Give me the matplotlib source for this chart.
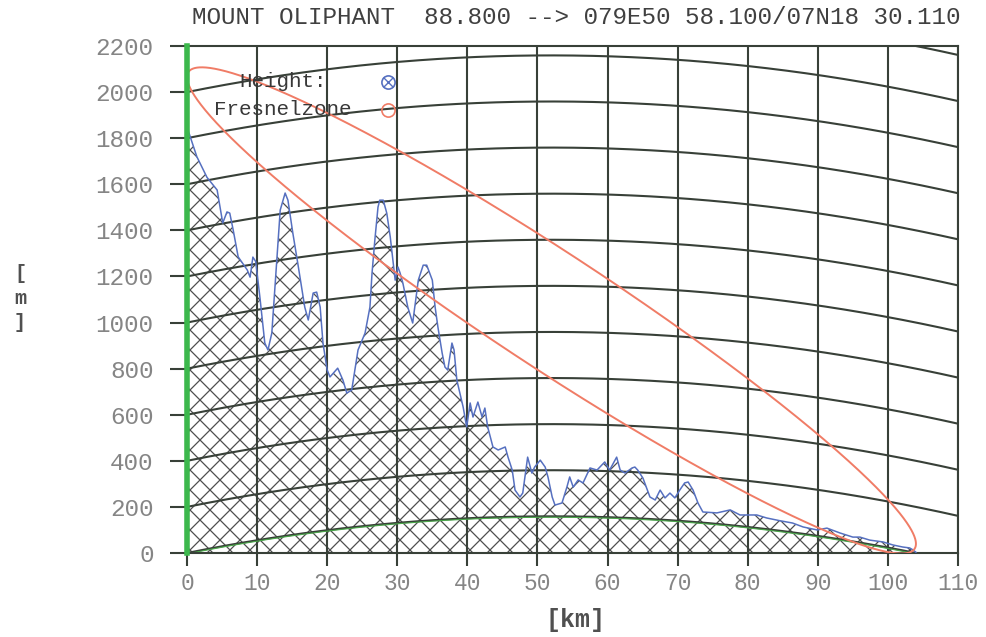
import numpy as np
import matplotlib
matplotlib.use("Agg")
import matplotlib.pyplot as plt

DPI = 120
P = 100.0 / DPI  # keeps sizes in pixels as designed for 100 dpi

plt.rcParams['font.family'] = ['Liberation Mono', 'DejaVu Sans Mono']
plt.rcParams['hatch.linewidth'] = 0.75

# ---------------- data ----------------
title_text = "MOUNT OLIPHANT  88.800 --> 079E50 58.100/07N18 30.110"
freq_mhz = 88.8
path_km = 104.0
tx_height_m = 2065.0
rx_height_m = 40.0
k_factor = 4.0 / 3.0
earth_radius_km = 6370.0

profile_km = [0.0, 0.2, 1.4, 2.85, 4.3, 5.1, 5.7, 6.1, 6.6, 7.3, 8.6, 9.0, 9.4, 9.8,
              10.4, 11.1, 11.55, 12.1, 12.85, 13.3, 14.0, 14.4, 15.1, 15.8, 16.8, 17.3,
              18.0, 18.5, 19.0, 19.4, 20.0, 20.4, 21.5, 22.25, 22.8, 23.5, 24.4, 25.4,
              26.1, 26.4, 26.8, 27.25, 27.5, 28.0, 28.5, 29.0, 29.7, 30.1, 30.4, 30.8,
              31.5, 32.2, 33.0, 33.7, 34.2, 35.0, 35.4, 35.8, 36.4, 36.8, 37.2, 37.8,
              38.1, 38.5, 39.4, 39.9, 40.4, 40.8, 41.5, 42.1, 42.5, 42.9, 43.65, 44.4,
              45.4, 45.8, 46.4, 46.8, 47.5, 47.9, 48.6, 49.2, 49.6, 50.4, 51.1, 51.5,
              52.1, 52.5, 53.5, 54.2, 54.6, 55.1, 55.8, 56.5, 57.5, 58.5, 59.6, 60.3,
              61.3, 61.8, 62.5, 63.5, 63.9, 64.3, 65.05, 66.05, 66.8, 67.5, 68.2, 68.9,
              69.6, 70.3, 71.0, 71.5, 72.2, 72.9, 73.6, 75.6, 77.5, 78.9, 81.3, 82.7,
              84.6, 86.4, 87.9, 89.9, 91.3, 93.15, 95.0, 96.0, 97.4, 99.3, 100.7, 102.1,
              103.1, 103.6, 104.0]
profile_m = [1935, 1830, 1720, 1630, 1575, 1432, 1480, 1475, 1400, 1285, 1228, 1197, 1284, 1265,
             1110, 911, 881, 954, 1284, 1488, 1562, 1531, 1388, 1258, 1067, 1011,
             1128, 1132, 1067, 911, 794, 764, 802, 750, 694, 707, 881, 954,
             1067, 1215, 1358, 1501, 1531, 1531, 1475, 1371, 1184, 1241, 1215, 1171,
             1067, 998, 1184, 1249, 1249, 1184, 1067, 980, 868, 807, 794, 911,
             881, 750, 633, 547, 651, 590, 655, 590, 629, 547, 460, 447,
             460, 416, 360, 273, 243, 260, 416, 347, 373, 403, 373, 330,
             243, 208, 217, 286, 330, 286, 317, 304, 369, 360, 395, 360,
             416, 360, 347, 369, 373, 360, 325, 243, 230, 273, 239, 260,
             239, 273, 304, 308, 273, 217, 178, 174, 187, 165, 165, 152,
             140, 130, 113, 100, 108, 87, 69, 69, 56, 48, 35, 26,
             22, 13, 3]

x_ticks = list(range(0, 111, 10))
y_ticks = list(range(0, 2201, 200))
curve_levels = list(range(0, 2401, 200))
legend_labels = ["Height:", "Fresnelzone"]

# ---------------- derived geometry ----------------
def bulge(x_km):
    x_km = np.asarray(x_km, dtype=float)
    return x_km * (path_km - x_km) / (2.0 * k_factor * earth_radius_km) * 1000.0

lam = 300.0 / freq_mhz
t = np.linspace(0, np.pi, 600)
xf = path_km * (1 - np.cos(t)) / 2.0
d1 = xf * 1000.0
d2 = (path_km - xf) * 1000.0
r = np.sqrt(np.clip(lam * d1 * d2 / (path_km * 1000.0), 0, None))
los = tx_height_m + (rx_height_m - tx_height_m) * xf / path_km
fx = np.concatenate([xf, xf[::-1]])
fy = np.concatenate([los + r, (los - r)[::-1]])

# ---------------- figure ----------------
fig = plt.figure(figsize=(986 / DPI, 637 / DPI), dpi=DPI)
ax = fig.add_axes([187 / 986, 84 / 637, 771 / 986, 507 / 637])
ax.set_xlim(0, 110)
ax.set_ylim(0, 2200)

grid_col = '#384038'

# terrain hatch
ax.fill_between(profile_km, 0, profile_m, facecolor='white', edgecolor='#4e4e4e',
                hatch='xx', linewidth=0, zorder=1)

# vertical grid lines
for xv in x_ticks[1:]:
    ax.axvline(xv, color=grid_col, lw=1.5 * P, zorder=2)

# curved earth grid lines
xc = np.linspace(0, 110, 400)
for lev in curve_levels:
    ax.plot(xc, lev + bulge(xc), color=grid_col, lw=1.5 * P, zorder=2)

# earth line (green)
xe = np.linspace(0, path_km, 300)
ax.plot(xe, bulge(xe) - 4, color='#4aa84a', lw=0.8 * P, zorder=2.5)

# profile
ax.plot(profile_km, profile_m, color='#5670c0', lw=1.1 * P, zorder=3)

# fresnel zone
ax.plot(fx, fy, color='#f07c66', lw=1.4 * P, zorder=4)

# green tx mast line
ax.axvline(0, color='#3cb84c', lw=4.0 * P, zorder=5, clip_on=False)

# axes style
for side in ['top', 'right', 'bottom']:
    ax.spines[side].set_color(grid_col)
    ax.spines[side].set_linewidth(1.5 * P)
ax.spines['left'].set_visible(False)
ax.set_xticks(x_ticks)
ax.set_yticks(y_ticks)
ax.set_xticklabels([str(v) for v in x_ticks])
ax.set_yticklabels([str(v) for v in y_ticks])
ax.tick_params(axis='x', direction='out', length=9 * P, width=1.5 * P, color=grid_col,
               pad=5 * P, labelsize=16.5 * P, labelcolor='#858585')
ax.tick_params(axis='y', direction='out', length=12 * P, width=1.5 * P, color=grid_col,
               pad=12 * P, labelsize=17.5 * P, labelcolor='#858585')

# legend
ax.text(0.1245, 0.929, legend_labels[0], transform=ax.transAxes, ha='center',
        va='center', fontsize=15 * P, color='#383838', zorder=6)
ax.text(0.1245, 0.874, legend_labels[1], transform=ax.transAxes, ha='center',
        va='center', fontsize=15 * P, color='#383838', zorder=6)
ax.plot([0.2607], [0.929], transform=ax.transAxes, marker='o', ms=9.5 * P, mfc='none',
        mec='#5670c0', mew=1.2 * P, zorder=6, clip_on=False)
ax.plot([0.2607], [0.929], transform=ax.transAxes, marker='x', ms=6.5 * P, mec='#5670c0',
        mew=1.0 * P, zorder=6, clip_on=False)
ax.plot([0.2607], [0.874], transform=ax.transAxes, marker='o', ms=9.5 * P, mfc='none',
        mec='#f07c66', mew=1.2 * P, zorder=6, clip_on=False)

# titles
fig.text(576 / 986, 1 - 18 / 637, title_text, ha='center', va='center',
         fontsize=17.5 * P, color='#404040')
fig.text(576 / 986, 1 - 620 / 637, "[km]", ha='center', va='center',
         fontsize=18 * P, fontweight='bold', color='#505050')
fig.text(20 / 986, 1 - 298 / 637, "[\nm\n]", ha='center', va='center',
         fontsize=14.5 * P, fontweight='bold', color='#505050', linespacing=1.35)

fig.savefig("out.png", dpi=DPI, facecolor='white')
